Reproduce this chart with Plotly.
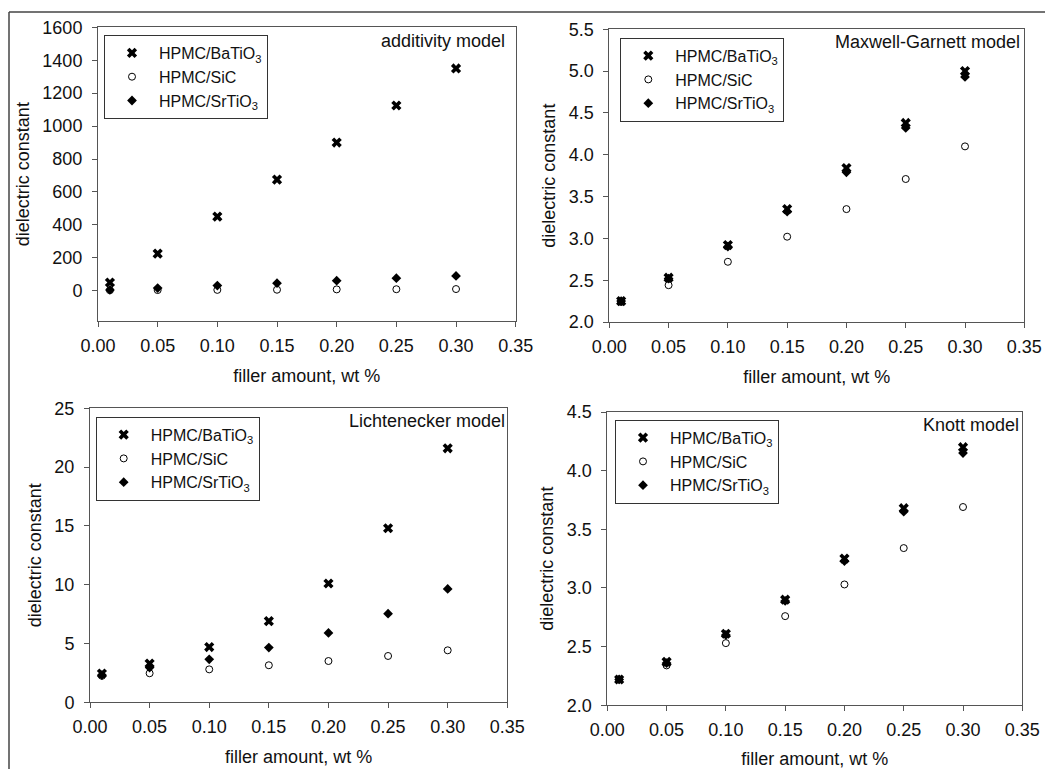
import plotly.graph_objects as go

W, H = 1045, 769

# ---------------- data ----------------
filler = [0.01, 0.05, 0.10, 0.15, 0.20, 0.25, 0.30]
series_names = ["HPMC/BaTiO<sub>3</sub>", "HPMC/SiC", "HPMC/SrTiO<sub>3</sub>"]

# additivity model
add_batio3 = [50, 225, 450, 675, 900, 1125, 1350]
add_sic = [3, 4, 5, 6, 8, 9, 10]
add_srtio3 = [5, 16, 31, 46, 61, 76, 90]

# Maxwell-Garnett model
mg_batio3 = [2.25, 2.53, 2.92, 3.35, 3.84, 4.38, 5.00]
mg_sic = [2.24, 2.44, 2.72, 3.02, 3.35, 3.71, 4.10]
mg_srtio3 = [2.25, 2.52, 2.90, 3.32, 3.79, 4.32, 4.93]

# Lichtenecker model
li_batio3 = [2.45, 3.3, 4.7, 6.9, 10.1, 14.8, 21.6]
li_sic = [2.25, 2.47, 2.8, 3.15, 3.51, 3.94, 4.42]
li_srtio3 = [2.32, 2.95, 3.66, 4.65, 5.9, 7.54, 9.64]

# Knott model
kn_batio3 = [2.22, 2.37, 2.61, 2.90, 3.25, 3.68, 4.20]
kn_sic = [2.22, 2.34, 2.53, 2.76, 3.03, 3.34, 3.69]
kn_srtio3 = [2.22, 2.36, 2.60, 2.89, 3.23, 3.65, 4.15]

model_titles = ["additivity model", "Maxwell-Garnett model", "Lichtenecker model", "Knott model"]
x_tickvals = [0.00, 0.05, 0.10, 0.15, 0.20, 0.25, 0.30, 0.35]
x_ticktext = ["0.00", "0.05", "0.10", "0.15", "0.20", "0.25", "0.30", "0.35"]
y_ticks = [
    [0, 200, 400, 600, 800, 1000, 1200, 1400, 1600],
    [2.0, 2.5, 3.0, 3.5, 4.0, 4.5, 5.0, 5.5],
    [0, 5, 10, 15, 20, 25],
    [2.0, 2.5, 3.0, 3.5, 4.0, 4.5],
]
y_tickfmt = ["d", ".1f", "d", ".1f"]
y_ranges = [[-184, 1600], [2.0, 5.5], [0, 25], [2.0, 4.5]]
panel_data = [
    (add_batio3, add_sic, add_srtio3),
    (mg_batio3, mg_sic, mg_srtio3),
    (li_batio3, li_sic, li_srtio3),
    (kn_batio3, kn_sic, kn_srtio3),
]

# ---------------- layout (pixels) ----------------
# plot areas: (left, right, top, bottom) in px
areas = [
    (98, 515.7, 27.3, 321),
    (609.3, 1024.3, 29.3, 322),
    (90, 507.3, 408.3, 702.3),
    (607.3, 1022.3, 412, 705.3),
]
legend_pos = [(104, 35), (620.3, 37.7), (95.7, 416.7), (615, 419.7)]
label_pos = [(507, 41), (1022, 42), (507, 421), (1021, 425)]

FONT = "Liberation Sans, Arial, sans-serif"
TXT = "#111111"
AXC = "#555555"

def px_x(x):
    return x / W

def px_y(y):
    return 1 - y / H

symbols = [
    dict(symbol="x", size=9, color="black", line=dict(width=0)),
    dict(symbol="circle-open", size=7, color="black", line=dict(width=1, color="black")),
    dict(symbol="diamond", size=7.5, color="black", line=dict(width=0)),
]

fig = go.Figure()
layout = dict(
    template="none",
    width=W, height=H,
    margin=dict(l=0, r=0, t=0, b=0, pad=0),
    paper_bgcolor="white", plot_bgcolor="white",
    font=dict(family=FONT, size=18, color=TXT),
    showlegend=True,
)

annotations = []
for i in range(4):
    n = "" if i == 0 else str(i + 1)
    xa, ya = "x" + n, "y" + n
    leg = "legend" + n
    for s in range(3):
        fig.add_trace(go.Scatter(
            x=filler, y=panel_data[i][s], mode="markers",
            name=series_names[s],
            marker=symbols[s],
            xaxis=xa, yaxis=ya, legend=leg, showlegend=True,
            cliponaxis=False,
        ))
    l, r, t, b = areas[i]
    common = dict(
        showline=True, linecolor=AXC, linewidth=1, mirror=True,
        ticks="outside", ticklen=5, tickwidth=1, tickcolor=AXC,
        showgrid=False, zeroline=False, automargin=False,
        tickfont=dict(family=FONT, size=18, color=TXT),
    )
    layout["xaxis" + n] = dict(
        domain=[px_x(l), px_x(r)], range=[0, 0.35], anchor=ya,
        tickvals=x_tickvals, ticktext=x_ticktext,
        title=dict(text="filler amount, wt %", font=dict(family=FONT, size=18, color=TXT), standoff=14),
        ticklabelstandoff=3,
        **common,
    )
    layout["yaxis" + n] = dict(
        domain=[px_y(b), px_y(t)], range=y_ranges[i], anchor=xa,
        tickvals=y_ticks[i], tickformat=y_tickfmt[i],
        title=dict(text="dielectric constant", font=dict(family=FONT, size=18, color=TXT), standoff=8),
        ticklabelstandoff=6,
        **common,
    )
    lx, ly = legend_pos[i]
    layout[leg] = dict(
        x=px_x(lx), y=px_y(ly), xanchor="left", yanchor="top",
        xref="paper", yref="paper",
        bgcolor="white", bordercolor="#333333", borderwidth=1,
        font=dict(family=FONT, size=16, color=TXT),
        tracegroupgap=0, itemwidth=44,
    )
    ax_, ay_ = label_pos[i]
    annotations.append(dict(
        text=model_titles[i], x=px_x(ax_), y=px_y(ay_), xref="paper", yref="paper",
        xanchor="right", yanchor="middle", showarrow=False,
        font=dict(family=FONT, size=18, color=TXT),
    ))

layout["annotations"] = annotations
layout["shapes"] = [
    dict(type="line", xref="paper", yref="paper", x0=px_x(9), x1=1, y0=px_y(12), y1=px_y(12),
         line=dict(color="#444444", width=1.5)),
    dict(type="line", xref="paper", yref="paper", x0=px_x(9), x1=px_x(9), y0=0, y1=px_y(12),
         line=dict(color="#444444", width=1.5)),
]
fig.update_layout(**layout)
fig.write_html("out.html")
